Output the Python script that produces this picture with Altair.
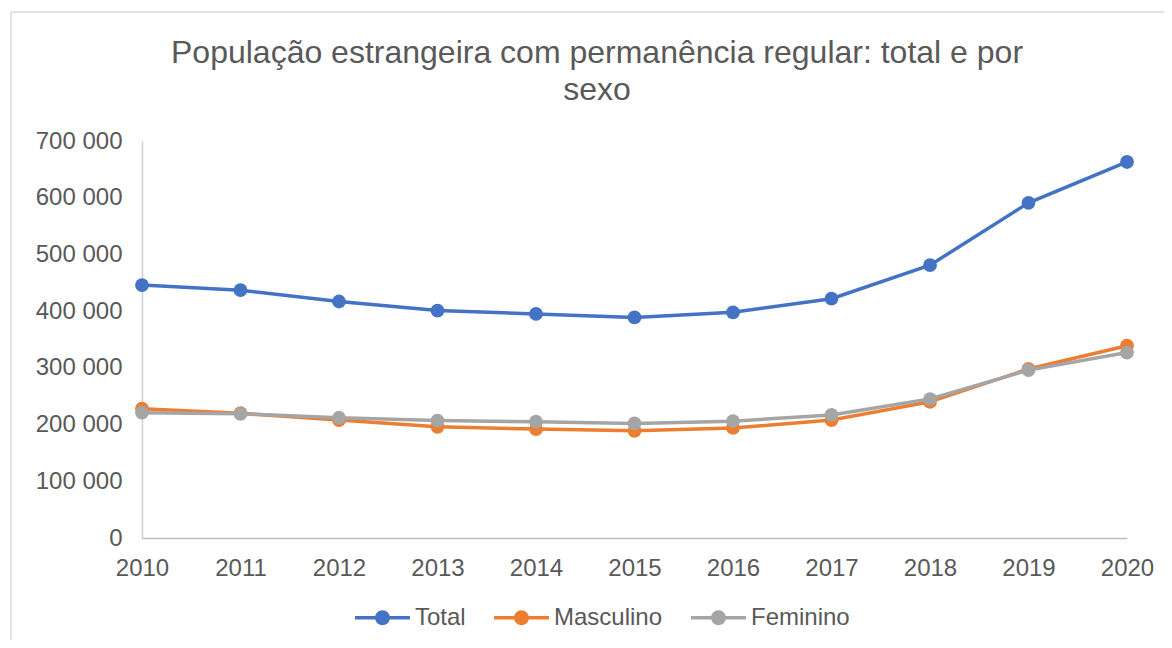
import altair as alt
import pandas as pd

years = [2010, 2011, 2012, 2013, 2014, 2015, 2016, 2017, 2018, 2019, 2020]
total = [446000, 437000, 417000, 401000, 395000, 389000, 398000, 422000, 481000, 591000, 663000]
masculino = [228000, 220000, 208000, 196000, 192000, 189000, 194000, 208000, 240000, 298000, 339000]
feminino = [221000, 219000, 212000, 207000, 205000, 202000, 206000, 217000, 245000, 296000, 327000]

series_names = ["Total", "Masculino", "Feminino"]
series_colors = ["#4472C4", "#ED7D31", "#A5A5A5"]
y_ticks = [0, 100000, 200000, 300000, 400000, 500000, 600000, 700000]
title_lines = ["População estrangeira com permanência regular: total e por", "sexo"]

rows = []
for i, (name, vals) in enumerate(zip(series_names, [total, masculino, feminino])):
    for yr, v in zip(years, vals):
        rows.append({"Ano": yr, "Serie": name, "Valor": v, "ordem": i})
df = pd.DataFrame(rows)

FONT = "Liberation Sans"
TXT = "#595959"

x_enc = alt.X(
    "Ano:Q",
    scale=alt.Scale(domain=[years[0], years[-1]], nice=False, zero=False),
    axis=alt.Axis(values=years, format="d", title=None, grid=False, ticks=False,
                  domainColor="#BFBFBF", domainWidth=1.5, labelFontSize=24,
                  labelColor=TXT, labelFont=FONT, labelPadding=18, labelFlush=False),
)
y_enc = alt.Y(
    "Valor:Q",
    scale=alt.Scale(domain=[0, 700000], nice=False),
    axis=alt.Axis(values=y_ticks, labelExpr="replace(format(datum.value, ','), ',', ' ')",
                  title=None, grid=False, ticks=False, domainColor="#D0D0D0",
                  domainWidth=1.5, labelFontSize=24, labelColor=TXT, labelFont=FONT,
                  labelPadding=20),
)

color_scale = alt.Scale(domain=series_names, range=series_colors)

legend_path = ("M-1,-0.06 L1,-0.06 L1,0.06 L-1,0.06 Z "
               "M-0.27,0 A0.27,0.27 0 1,1 0.27,0 A0.27,0.27 0 1,1 -0.27,0 Z")

legend = alt.Legend(title=None, orient="none", legendX=213, legendY=449,
                    direction="horizontal", symbolType=legend_path,
                    symbolSize=3025, symbolStrokeWidth=0, labelFontSize=24,
                    labelColor=TXT, labelFont=FONT, columnPadding=28,
                    labelOffset=5, padding=0)

series_layers = []
for name, col in zip(series_names, series_colors):
    base = alt.Chart(df).transform_filter(alt.datum.Serie == name)
    line = base.mark_line(strokeWidth=3.5, color=col).encode(
        x=x_enc, y=y_enc, order=alt.Order("Ano:Q")
    )
    pts = base.mark_point(filled=True, size=190, opacity=1).encode(
        x=x_enc, y=y_enc,
        color=alt.Color("Serie:N", scale=color_scale, legend=legend),
    )
    series_layers += [line, pts]

frame_df = pd.DataFrame({"k": [0]})
frame_top = alt.Chart(frame_df).mark_rule(color="#D9D9D9", strokeWidth=1.5).encode(
    x=alt.value(-131), x2=alt.value(1030), y=alt.value(-129)
)
frame_left = alt.Chart(frame_df).mark_rule(color="#D9D9D9", strokeWidth=1.5).encode(
    x=alt.value(-131), y=alt.value(-129), y2=alt.value(510)
)

title_df = pd.DataFrame({"t": title_lines, "line": [0, 1]})
title1 = alt.Chart(title_df).transform_filter("datum.line == 0").mark_text(
    fontSize=32, font=FONT, color=TXT, align="center", baseline="alphabetic"
).encode(text="t:N", x=alt.value(455), y=alt.value(-78))
title2 = alt.Chart(title_df).transform_filter("datum.line == 1").mark_text(
    fontSize=32, font=FONT, color=TXT, align="center", baseline="alphabetic"
).encode(text="t:N", x=alt.value(455), y=alt.value(-41))

chart = alt.layer(*series_layers, frame_top, frame_left, title1, title2).properties(
    width=985,
    height=397,
    autosize="none",
    padding={"left": 134, "top": 133, "right": 37, "bottom": 102},
).configure_view(stroke=None)

chart.save("out.html", embed_options={"renderer": "svg", "actions": False})
